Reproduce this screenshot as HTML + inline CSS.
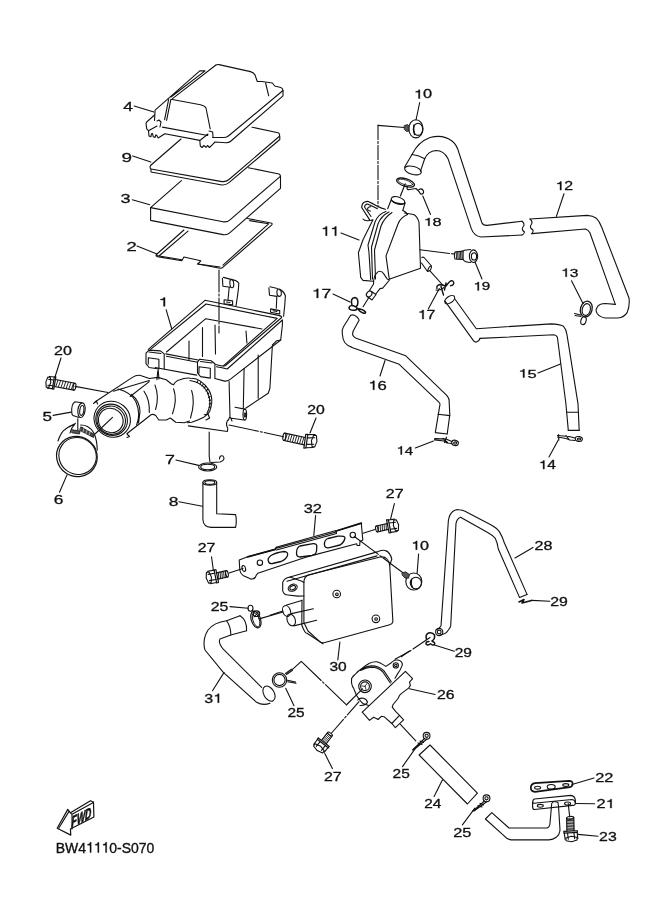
<!DOCTYPE html>
<html><head><meta charset="utf-8">
<style>
html,body{margin:0;padding:0;background:#fff;}
body{width:661px;height:913px;overflow:hidden;}
svg{display:block;will-change:transform;}
.lb text,.lb path{vector-effect:non-scaling-stroke;}
</style></head><body>
<svg width="661" height="913" viewBox="0 0 661 913">
<g fill="none" stroke="#111" stroke-width="1.1" stroke-linejoin="round" stroke-linecap="round">
<!-- PART 4 lid -->
<path d="M154.5,120.4 L155.1,110.1 L199.8,70.9 L205,70.9 L171,97"/>
<path d="M215.6,65.3 Q217,64.3 219,64.6 L250.5,71.6 Q254,72.5 255,75 L257.3,81.5 L261.9,81.5 L272.4,83 L274.7,86 L280.8,87.5 Q283,88.5 283,90.5 L283,95.8 L231,141 Q229,142.7 226,142.7 L215,142 L212.7,144.3 L209.5,147.5 L207.5,145.5 L206,147.3 L204,145.5 L202,147.5 L200.3,146 L199.8,140.5"/>
<path d="M215.6,65.3 L172.5,98.6"/>
<path d="M283,90.5 L229,135.5 Q227,137.5 224,137.5 L212.7,137.5"/>
<path d="M170.9,99.2 L200.5,104.7 Q205,106 206,108 L210.2,128.9 M170.9,99.2 L166.6,120.4 M168.6,99.6 L164.6,119.6"/>
<path d="M265.6,83 L268.7,95.8"/>
<path d="M154.5,115 L146.7,122 L146,123.4 L146.7,128.9 L148.5,130.7 L149,136.1 L150.9,136.8 L151.5,133.7 L152.5,133.5 L153.3,136.8 L155.1,137.4 L155.7,135 L156.5,135 L158.2,138 L164.8,133.7 L199.9,140.4"/>
<path d="M162.4,127.1 L207.8,135.5 M157,121 L159,120 L161,122 L160,127 M148.5,130.7 L157,126 M209,131 L212.7,132 L213,137.5 M200.5,140 L208,134"/>
<!-- PART 9 -->
<path d="M181,139 L150.5,165.5 Q149.5,168 151,169 L222,181.6 Q226,182 229,179.5 L279.2,136.5 Q280.5,134 278,132.8 L252,127.2"/>
<path d="M151,169 L151,172 L222,185 Q226,185.2 229,182.7 L279.8,139.5 L279.8,136.2"/>
<!-- PART 3 -->
<path d="M181.4,180.6 L150.6,207.6 L223,221.7 Q227,222.5 230,219.8 L279.8,176.8 Q281,175 279,174 L248.3,167.7"/>
<path d="M150.6,207.6 L150.6,220.4 L223,234.6 Q227,235.4 230,232.7 L280.5,188.3 L280.5,176"/>
<!-- PART 2 -->
<path d="M183.9,230 L156.4,254.5 Q155.5,256 157.4,256.6 L181.8,260.8 L183.9,257 L200.8,260.8 L197.7,264 L220,268.2 Q222,268.5 223,267.2 L271.8,224.8 Q273,223 269.7,222.7 L247.4,218.5"/>
<path d="M188,231.2 L159.5,255.5 M181.8,259.8 L156.4,255.5 M197.7,264 L220,267 M268.6,223.8 L223,265.2 M249.6,220.6 L268.6,223.8"/>

<!-- PART 1 airbox -->
<path d="M148.3,349.4 L205,300.3 L278.7,315.4 Q281.7,316 281.7,317.5 L225.5,365.5 Q224.5,366.2 222,366 L215.6,364.5 M198.2,360 L165.7,353.9"/>
<path d="M150.6,349.4 L206,304 L277.2,318.4 L223.3,365.8"/>
<path d="M166.5,352 L205.8,318.7 L262,329"/>
<path d="M166.5,356.2 L197.5,362.2 M216.4,366.8 L222,367.8 Q225,368.5 227.2,369 L282.4,320"/>
<path d="M282.4,320 L282.4,325 M155.1,367.5 L196.7,375.1 M214.9,378.5 L224.7,381.1 Q228,381.5 230.8,378.9 L280.7,340 L282.4,325"/>
<!-- lugs -->
<path d="M146,353.2 L149.1,350.1 L160.4,350.9 L164.2,353.9 L164.2,369 M146,353.2 L146,363.7 L149.1,367.5 L158.9,369 M148.3,357.7 L158.9,359.2 L158.9,369 M148.3,357.7 L148.3,364 M149,352 L161,353.5"/>
<path d="M197.5,362.2 L199.8,359.2 L211.1,360.7 L214.9,363.7 L214.9,378.1 M197.5,362.2 L197.5,372.8 L200.5,376.6 L210.3,378.1 M199,366.8 L210.3,368.3 L210.3,378.1 M199,366.8 L199,373 M200.5,361.5 L212,363"/>
<path d="M158.2,369.8 L158.9,378.9 M157.8,370.8 L156.9,379.7"/>
<!-- right face -->
<path d="M229.1,381.6 L230,416.5 L228.3,419.9 M276.5,340.8 L272.4,345 L269.9,388.2 L268.2,393.2 L245.7,408.2 M280.7,340 L276.5,340.8"/>
<path d="M235.1,407.3 L244.8,409.1 M231.5,418.2 L244.2,420 M230.5,417.5 L232,421"/>
<ellipse cx="244.8" cy="414.6" rx="1.8" ry="5.5"/>
<ellipse cx="245" cy="415" rx="0.7" ry="2.2"/>
<path d="M244.1,368.3 L243.3,408.2 M258.2,355 L258.2,398.2"/>
<path d="M188.3,425.9 L227.4,431.5 L227.8,428.2 Q225.5,424.5 227.4,420.7 L228.3,419.9"/>
<!-- inner ribs -->
<path d="M189,341 L189,360 M202.5,327.5 L202.5,356.5 M215,325 L215.5,354 M246,331 L246.9,343"/>
<!-- clips on rim -->
<path d="M222.4,278.2 L222.9,286.2 L230.3,287.3 M223.5,277.4 L230.9,279.4"/>
<ellipse cx="231.8" cy="283.6" rx="1.9" ry="4.2" transform="rotate(-5 231.8 283.6)"/>
<path d="M232,279.9 Q236.6,280 238.8,283.3 Q238.5,290 237.7,294.7 L236,306 M229.2,287.3 L228,299.8"/>
<path d="M224.1,299.8 L232.6,300.9 L232.6,304.9 L224.1,303.8 Z M226.5,302 L230,302.5"/>
<path d="M268.9,287.9 L269.5,295.3 L276.8,296.4 M270,286.8 L277.4,288.5"/>
<ellipse cx="279.1" cy="292.7" rx="2.2" ry="3.7" transform="rotate(-5 279.1 292.7)"/>
<path d="M279.1,289.6 Q283.1,290 285.4,295.8 Q285,305 283.6,316.3 M276.8,296.4 L276.3,308.3"/>
<path d="M270.6,308.9 L279.7,310.6 L279.7,314 L270.6,312.3 Z M273,310.8 L277,311.5"/>
<!-- dash-dot line vertical -->
<path d="M219,270 L219,333" stroke-dasharray="22 2 2 2"/>
<!-- boot -->
<ellipse cx="112.2" cy="419.2" rx="18.6" ry="17.6" transform="rotate(40 112.2 419.2)"/>
<ellipse cx="111.6" cy="419.8" rx="16.2" ry="15.3" transform="rotate(40 111.6 419.8)"/>
<ellipse cx="111.2" cy="420.2" rx="14.6" ry="13.8" transform="rotate(40 111.2 420.2)"/>
<ellipse cx="110.8" cy="420.5" rx="12.6" ry="12" transform="rotate(40 110.8 420.5)"/>
<path d="M95.3,401.8 L132.4,377.4 Q136,375 139.8,375.3 L149.3,378.5 L157.8,377.4 L166.2,379.8 L171.5,384 L173.6,384.6"/>
<path d="M113.3,391.2 L149.3,380.5 M130.2,396.5 L149.3,381.6 M118,389 Q131,392 136,402 Q141,414 136.6,425 M131.3,394.4 Q139.8,400.7 140,412 L138.5,423"/>
<path d="M127.1,433.5 L151.4,414.5 Q153.5,414 155.7,415.5 L158.8,420 L166.2,420 L170.4,418 L175.7,422.2 L184.2,422.7 L189.5,421"/>
<path d="M144,391.2 Q150,400 149.3,412.4 M155,385.1 Q159.5,396.8 155.6,409.5 M173.6,388.8 Q177.5,400 172.5,413.7 M191.6,390.4 Q195.5,402 190.5,418"/>
<path d="M173.6,384.6 Q176,380.5 180,379.8 Q185,377.5 190.5,378.2 Q197,378.5 200,380.9 Q206,385 208.5,389.4 Q212.5,396 211.7,403 Q211,408 209.6,411.6 Q207,415 204.3,416.9 Q197,420.5 191.6,422.2 L187.4,422.7"/>
<path d="M190,380.5 Q201,382 206.5,390.5 Q210.5,398 209.8,405 Q209,410 207,413"/>
<path d="M198,380.5 L197,382.5 M201,382 L200,384 M203.5,384 L202,386 M205.5,386.5 L204,388 M207.5,389.5 L206,391 M209,393 L207.5,394 M210,396.5 L208.5,397.5 M210.8,400 L209.2,400.8 M210.8,403.5 L209.2,404 M210.5,407 L209,407.2"/>
<path d="M204.3,414.8 L208,414 L209.6,418 L206,420"/>
<path d="M93.5,403.5 L96.5,401 L97.5,404 M127,434 L129.5,436.5 L127,437.5"/>
<path d="M112.5,417.4 L95,434"/>
<path d="M75,386.4 L108,392.5"/>
<!-- part 5 -->
<path d="M75,401.7 L81.6,402.8 M73,415.4 L79,417.6 M75,401.7 Q71,404 71.8,413 Q72,415 73,415.4"/>
<ellipse cx="81.5" cy="410.2" rx="3.6" ry="7.4" transform="rotate(8 81.5 410.2)"/>
<ellipse cx="81.8" cy="410.4" rx="2" ry="5" transform="rotate(8 81.8 410.4)"/>
<path d="M77.8,418.7 L77.8,430"/>
<!-- clamp 6 -->
<ellipse cx="76.9" cy="456.5" rx="20.6" ry="19.8" transform="rotate(35 76.9 456.5)" stroke-width="1.2"/>
<ellipse cx="77.6" cy="456" rx="19" ry="18.2" transform="rotate(35 77.6 456)"/>
<path d="M58,441 Q61,432 65,429.5 Q70,425.5 75.4,423.4 L68.6,427.2 M75.4,423.4 Q71,428 70,433"/>
<path d="M80.7,425 Q84.5,425 87.5,426.5 Q92,429 94,433.3 Q97,440 97.3,450 M82,427.5 L92,436"/>
<path d="M72.4,429.8 L80,431 L79.5,434 L72,432.8 Z" fill="#555" stroke-width="0.8"/>
<path d="M81,427 L94.5,434.5 L93.5,437.5 L80,430.5 Z" fill="#444" stroke-width="0.8"/>
<path d="M84,428.5 L83,431.8 M87,430.2 L86,433.5 M90,432 L89,435.2" stroke="#fff" stroke-width="0.6"/>
<!-- part 7 -->
<ellipse cx="207.7" cy="467" rx="9.1" ry="4" />
<ellipse cx="207.7" cy="467" rx="7" ry="2.7" />
<path d="M209.2,432 L209.2,456.3 L210,462 M211,462.5 L220,462 Q226,460 223,456 Q219.5,455 219.5,459"/>
<!-- part 8 -->
<ellipse cx="209.8" cy="482.4" rx="6.9" ry="2.7"/>
<ellipse cx="209.8" cy="482.4" rx="5" ry="1.8"/>
<path d="M202.9,482.8 L202.9,519.8 Q203.5,527 211,527.4 L235.6,527.4 Q237,521 235.6,514.6 L216.7,513.8 L216.7,482.8"/>
<!-- bolt 20 right -->
<path d="M229,425 L283.5,436.7" stroke-dasharray="30 2 2 2"/>
<!-- PART 10 top nut -->
<path d="M378,125.4 L404.2,127.5"/>
<ellipse cx="415.9" cy="128.8" rx="7.1" ry="9.1"/>
<ellipse cx="418" cy="129.3" rx="4.7" ry="6.1"/>
<path d="M414,125 Q413,129 414.5,134.5" stroke-width="1.4"/>
<path d="M404.5,125.5 L407.5,124.6 L409,126 L409,131 L406.5,131.5 L404.5,129.5 Z" fill="#555" stroke-width="0.8"/>
<path d="M378,125.4 L378,207" stroke-dasharray="14 2 2 2"/>
<!-- PART 12 hose left -->
<path d="M412,154.5 Q418,142 430,137.5 Q443,134 452,141 Q457,145 459,153 L481.8,222.5 Q483,225.5 487,225.4 L522,221.2"/>
<path d="M424.7,158.7 Q428,151.3 436,150.5 Q444,150.5 448,158.7 L471.3,228.6 Q474,236 481,237 L522,235"/>
<path d="M412,154.5 L404.5,167.2 M424.7,158.7 L420.4,171.4"/>
<ellipse cx="413" cy="170.4" rx="8.6" ry="4" transform="rotate(15 413 170.4)"/>
<path d="M412,154.5 Q418,155 424.7,158.7"/>
<path d="M522,221.2 Q525.5,224 523,227 Q521,229.5 524.5,232 Q524,234.5 522,235"/>
<!-- hose 12 right -->
<path d="M530,219 L587.2,215.4 Q593,215.8 596.3,218.2 Q599.5,221.5 601.7,227.2 L629,298 Q630,306 627.1,312.6 Q624,317.5 618,318 L605.3,318 Q599.5,317 597.2,313.5 Q595.5,310.5 596.3,309 Q597.5,305.5 600,304.4 Q602.5,303.5 605.3,303.5 L615.3,304.4"/>
<path d="M531.8,233.6 L585.4,229 Q588.5,230 589.9,232.7 L615.3,304.4"/>
<path d="M530,219 Q533.5,222 531,225 Q529,227.5 533,230 Q533.5,232.5 531.8,233.6"/>
<!-- PART 11 tank -->
<path d="M369.5,219.6 L361.7,207.5 Q362,203 364.7,202 Q366.5,201.3 368.3,201.5 L373.2,203.9 L377.4,206.3 L381.6,208.1 L385.3,209.3" stroke-width="1.2"/>
<path d="M371,216.5 L364.5,207 Q365,204.2 367.5,204 L373,206.5 L377.4,208.8"/>
<path d="M370.8,206.8 Q368,206.5 367.5,209 Q367.8,211.3 370.5,211"/>
<path d="M373,219.8 L363,239.8 L358.4,252.8 L360.7,277.4 L363,280.4 L373,281.2 M363,219 Q365,222 373,219.8"/>
<path d="M402.8,210.5 Q406,211.5 407.5,214.5"/>
<ellipse cx="398" cy="200.5" rx="7" ry="3.5" transform="rotate(18 398 200.5)"/>
<path d="M391.5,200.5 Q396,204.5 404.8,203.5"/>
<path d="M391.3,199.5 L387.7,208.7 M405.2,202.7 L402.8,210.5"/>
<path d="M386,211.4 Q378,214 375,222 L368,245 L369,252.8 L370.7,279.7 M389,212 Q381,216 378,224 L371.5,247 L372.5,279 M392,212.5 Q384,218 381,226 L374.5,250 L375.5,279"/>
<path d="M407.5,214.5 Q400,218 398,224 L386,255.9 L389,277.4 L389.8,279"/>
<path d="M404.4,213 L413.6,214.5 Q417,216 419,222.1 L420.5,268.2 L389.8,279"/>
<path d="M373.6,280.9 Q374.5,275 376.3,273.6 Q378,271 380,271.3 Q382,271.5 383.6,273.6 L387.2,279 L389.5,280 L382.7,288.1 L380,288.6 L375.8,294"/>
<path d="M373.6,280.9 L373.6,284 L369.5,290.5"/>
<ellipse cx="369.2" cy="294" rx="2.4" ry="3.3" transform="rotate(40 369.2 294)"/>
<path d="M371.5,291.5 L376,294.5 M367.5,296.8 L372,300 L376,294.5"/>
<path d="M421.8,257.5 Q423.5,256.5 425,258.5 L431.5,266 M421.5,263 L427.5,271.5 M427.5,271.5 Q431.5,271 431.5,266 Q429,265.5 427.5,271.5"/>
<path d="M419.8,249.8 L454.3,254" stroke-dasharray="30 2"/>
<path d="M369,297.2 L363.1,306.7 M430.4,271.3 L442.7,285"/>
<!-- clip 18 -->
<ellipse cx="405.5" cy="182.6" rx="9.3" ry="3.8" transform="rotate(18 405.5 182.6)" stroke-width="1.3"/>
<ellipse cx="405.3" cy="182.4" rx="7.6" ry="2.4" transform="rotate(18 405.3 182.4)" stroke-width="0.8"/>
<path d="M400.4,196 L405.2,183.9 M407.5,186.5 Q406,190.5 409.5,189.5 L416,188.5 Q419,191 420.5,194 Q424,194.5 423.5,191 Q422,188 419,189.5" stroke-width="1.2"/>
<!-- bolt 19 -->
<path d="M455,252 L463.1,251 L463.1,259.5 L455,259 Q453.8,255.5 455,252 Z"/>
<path d="M456.2,251.8 L456.6,259 M457.6,251.6 L458,259.1 M459,251.5 L459.4,259.2 M460.4,251.4 L460.8,259.3 M461.8,251.2 L462.2,259.4" stroke-width="0.9"/>
<path d="M463.1,251 L464.5,250.2 L470.6,249.5 M463.1,259.5 Q465,262.5 470.6,262.5"/>
<ellipse cx="473.5" cy="256.2" rx="4.1" ry="6.3"/>
<ellipse cx="474" cy="256.4" rx="2.6" ry="3.6"/>
<!-- clip 17 left -->
<path d="M352,305 Q350,298 355,297.5 Q359,298.5 357.5,305 L356,307 Q350,304 349,307.5 Q349,311 356,310 L357,308.5 Q363,309 365.5,312 Q366,314 363,313 Q360,312 357,308" stroke-width="1.5"/>
<!-- clip 17 right -->
<path d="M437,288.5 Q436,285.5 440,284.5 L446,286 Q449,282 450.5,281 Q453.5,280 453.8,283 Q453.5,285.5 450.5,285.8 M446,283 L444.5,290 M441,286.5 L443.5,295" stroke-width="1.4"/>
<path d="M436,290 Q440,291 444,287.5"/>
<!-- clip 13 -->
<ellipse cx="586.3" cy="309" rx="5.8" ry="8" transform="rotate(15 586.3 309)" stroke-width="1.3"/>
<ellipse cx="586.3" cy="309.5" rx="4" ry="6" transform="rotate(15 586.3 309.5)"/>
<ellipse cx="583.5" cy="320.7" rx="2.6" ry="4" transform="rotate(15 583.5 320.7)"/>
<path d="M574.5,313.5 L580.8,315 M575,315.5 L581,316.5"/>
<!-- hose 16 -->
<path d="M350.7,315.3 Q352.5,314.5 354.4,315.3 Q358,317 359.2,320.1 L353.2,331 Q352,334.5 353.2,335.9 Q354.5,337.7 356.2,338.3 L405.8,355.8 L446.5,395.2 Q449.3,398.5 449.1,400.4 L449.8,414.9 L447.2,434"/>
<path d="M350.7,315.3 L343.5,326.8 Q341.5,330 342.3,334 Q342.8,339.5 344.7,342.5 Q347.5,346 352,347.4 L399.2,364.3 L438.6,401.8 Q440.2,403.5 440,404.4 L435.3,432.6 L447.2,434"/>
<path d="M438,414.2 L449.8,415.6"/>
<!-- hose 15 -->
<ellipse cx="449.7" cy="299.6" rx="5.6" ry="3.2" transform="rotate(-35 449.7 299.6)"/>
<path d="M444.8,300.9 L472.7,339.6 Q474.5,342.5 476.3,342 Q479.5,341 480,338.4"/>
<path d="M454.5,298.5 L476.3,328.7 L551.4,323.9 Q559,324 563.5,326.3 Q566.5,329.5 567,334.8 L578,403.8 L579.2,430.4"/>
<path d="M480,338.4 L553.8,334.8 Q556.5,335.5 557.4,337.2 L565.9,403.8 L568.3,430.4"/>
<path d="M567,412.2 L578,412.2 M568.3,430.4 L579.2,430.4"/>
<!-- clip 14 left -->
<path d="M434.7,438.6 L446.5,439.2 L452,441.5 M434.5,439.8 L444,441 L447,443 L452,443.5 M446.5,437.2 L444.5,442.5 M443,438.5 L447.5,442.5" stroke-width="1.2"/>
<ellipse cx="455" cy="442.9" rx="3.4" ry="2.6" transform="rotate(15 455 442.9)"/>
<ellipse cx="455.2" cy="443" rx="1.6" ry="1.1"/>
<!-- clip 14 right -->
<path d="M557.5,435.5 L569,436.5 L575,438 M557.5,437 L566,438.5 L570,440 L575,440.5 M558.5,434.5 L558.8,440 M566,435.5 L569.5,440" stroke-width="1.2"/>
<ellipse cx="578.8" cy="439" rx="3.6" ry="2.4" transform="rotate(10 578.8 439)"/>
<ellipse cx="579" cy="439" rx="1.7" ry="1"/>
<!-- PART 32 bracket -->
<path d="M239.2,560 L247.7,556.8 L275.2,549.4 M336.1,531 L361.3,523.2 L362.8,540.1 L360,541.5 L359.7,545.5 L357,545.5 L356.7,543.7 L305,557.4 L257.8,573.2 L256.2,575.4 Q255.5,578.5 252.5,579 L250.9,579.1 L243,575.4 Q240,573 239.8,570 L239.2,560"/>
<path d="M247.7,556.8 L275.2,549.4 M336.1,531 L361.3,523.2" stroke-width="1.8"/>
<path d="M275.2,549.4 L276,547.2 L336.1,530.5 M275.8,548.5 L336.1,532 M276.5,550 L336.5,533.5 M336.1,530.5 L336.5,533.5"/>
<path d="M268.5,561.5 Q267,558.5 271,555.5 Q276,552.5 284,551.5 Q288.5,551.8 287.5,555.5 Q286,559.5 281,561.5 L272.5,563.5 Q269,563.8 268.5,561.5 Z" stroke-width="1.3"/>
<path d="M296.5,553 Q296.5,547.5 300,546 L313,543.7 Q317,543.5 316.8,546.5 L316.5,551 Q316,554.5 312,555.3 L300,557 Q296.5,557 296.5,553 Z" stroke-width="1.3"/>
<path d="M324.5,545 Q324,540 328,538.5 L338,536.2 Q345.5,535.5 345,538 Q344,542.5 340,545 L328.5,547.8 Q324.8,548.2 324.5,545 Z" stroke-width="1.3"/>
<circle cx="259.9" cy="562.7" r="2.7"/>
<circle cx="352.8" cy="535" r="2.7"/>
<ellipse cx="243.8" cy="568.5" rx="1.7" ry="3" transform="rotate(-15 243.8 568.5)"/>
<path d="M229,573 L243,568.5"/>
<path d="M354.3,536.5 L402.9,572.7" stroke-dasharray="30 2 2 2"/>
<path d="M363,533.3 L375,529.5"/>
<!-- PART 10 lower nut -->
<ellipse cx="413.8" cy="581.5" rx="8" ry="8.5"/>
<ellipse cx="415.9" cy="583" rx="5.6" ry="5.8"/>
<path d="M411.5,579.5 Q410.5,584 412.5,587.5" stroke-width="1.4"/>
<path d="M402.3,573 L405.5,571.8 L409.5,574.5 L408.5,578.2 L405,578 L402.5,575.5 Z" fill="#555" stroke-width="0.8"/>
<!-- PART 30 canister -->
<path d="M303.9,582.4 L301.8,581.3 L290,577 Q284,578 282.7,582.4 L282.7,590.8 Q284,595 288,595 L297.5,596.1 L303.9,596"/>
<path d="M290,577 L378,551.6 Q383,549.5 385.4,550.6 Q390,552 391.8,559 L389.7,565.4"/>
<path d="M287,581.3 L377,555.9"/>
<ellipse cx="292.7" cy="587.7" rx="4.7" ry="3.3" transform="rotate(-25 292.7 587.7)"/>
<ellipse cx="292.7" cy="587.7" rx="3" ry="1.9" transform="rotate(-25 292.7 587.7)"/>
<path d="M303.9,582.4 Q304,577 308.1,575 L380.1,557 Q385,556.5 387,559 Q389.7,562 389.7,565.4 L392.9,621.6 Q392.5,624 389.7,624.7 L324,642.7 Q320.5,643 319.8,641.7 L308,631 L303.9,622.6 L303.9,582.4"/>
<path d="M302,600 L301.8,625 Q305,634 307,633.2 L323,643.8"/>
<circle cx="336.7" cy="594" r="3.8"/>
<circle cx="336.9" cy="594.3" r="1.3"/>
<circle cx="375.9" cy="618.8" r="3.8"/>
<circle cx="376.1" cy="619" r="1.3"/>
<ellipse cx="286.6" cy="611" rx="3.8" ry="5.6" transform="rotate(-20 286.6 611)"/>
<ellipse cx="291.2" cy="620" rx="4" ry="6" transform="rotate(-20 291.2 620)"/>
<path d="M286.6,605 L301.8,600.5 M291.4,613.6 L313.4,608.8 M293.8,625.9 L316.6,620.3"/>
<path d="M270,615.2 L282.7,611"/>
<path d="M339.9,642 L337.8,660"/>
<!-- clip 25 upper -->
<ellipse cx="255.9" cy="619.5" rx="4.6" ry="8.7" transform="rotate(-18 255.9 619.5)" stroke-width="1.2"/>
<ellipse cx="256.1" cy="619.8" rx="3.2" ry="7.3" transform="rotate(-18 256.1 619.8)" stroke-width="0.9"/>
<ellipse cx="250.5" cy="608.3" rx="2.5" ry="3" stroke-width="1.1"/>
<ellipse cx="256.4" cy="613.7" rx="3.3" ry="2.8" stroke-width="1.1"/>
<path d="M253,611 L254,613 M258.5,612 L254,617"/>
<path d="M260,618.6 L283,612"/>
<!-- hose 31 -->
<path d="M240,615.8 L226.6,620.8 Q214,622.5 208,630 Q202,640 205,650 L223.3,672.4 L256.6,702.3 Q263,706 270,703.2"/>
<path d="M246.6,630.8 L230.8,635 L220,639 Q218,642 222.5,648.3 L261.6,687.4"/>
<path d="M240,615.8 Q247,620 246.6,630.8 M226.6,620.8 Q231,627 230.8,635"/>
<ellipse cx="269" cy="693.6" rx="5.2" ry="8.3" transform="rotate(-30 269 693.6)"/>
<!-- clip 25 lower -->
<circle cx="279.5" cy="680" r="7.2"/>
<circle cx="279.5" cy="680" r="5.6"/>
<path d="M285.5,673.5 L291.5,669.2 M286.5,674.5 L292.5,670.2 M287.7,681.8 L296,683.3 M287.5,680.3 L295.5,682"/>
<path d="M292.2,669.7 L301.3,661.3 L346.7,705.2" stroke-dasharray="40 2 2 2"/>
<!-- PART 28 hose -->
<path d="M436.2,629.5 Q439.5,628.5 441,625.9 L448.4,520.3 Q449.5,514 453,511.2 Q456,509.3 459,509.7 Q462.5,510 465,511.2 L490.8,524.8 Q497,528 499.8,532.4 Q502.5,537 504.4,543 L527,594.4"/>
<path d="M440.4,635 Q446,634 448,630.5 Q450.5,627.5 450.7,625.9 L456,523.3 Q457,518.5 460.5,517.2 L487.7,532.4 Q492.5,535 495.3,538.4 Q497.5,542.5 498.3,549 L519.5,597.4"/>
<path d="M519.5,597.4 L527,594.4"/>
<circle cx="439.2" cy="632" r="3.6"/>
<circle cx="439.2" cy="632" r="1.9"/>
<!-- clip 29 right -->
<path d="M519,602 L524,599.5 L522,603 L531.6,600.4" stroke-width="1.6"/>
<path d="M531.6,600.4 L549.8,601.3"/>
<!-- clip 29 left -->
<path d="M426.5,639.5 Q425,634.5 428.5,633 Q432.5,631.8 434.5,635 Q435.3,639 432,641" stroke-width="1.5"/>
<path d="M429,641.5 Q425.5,641.5 426,644 Q428,646 430.5,643.8 Q432.5,645.8 434.5,644.5 Q435.5,642.5 432.5,641.5" stroke-width="1.4"/>
<path d="M430,637.5 L413,649 M411,650.5 L395,659.2"/>
<path d="M433.7,644.7 L454.3,651.3"/>
<!-- PART 26 valve -->
<path d="M351.6,678.6 Q353,676 355,674.5 Q358.5,670.5 362.3,668.2 Q366,665 369.5,663.2 Q373,661.5 376.8,661.8 Q380,662.5 382.2,664.1 L385.9,666.4 L391.3,662.7 Q393.5,660.5 395.8,660 Q399,659.8 400.4,660.9 Q403,663 402.2,665.4 Q400.5,670 397.7,673.6 L395,678.2"/>
<path d="M361.4,669.1 Q366,666.5 371.3,665.9 Q375,665.8 378.6,667.3 Q382,668.8 384,670.9 L391.3,681.8 M360.5,670.5 Q366,667.6 371.3,667.2 Q375,667.2 378,668.6 Q381.5,670.2 383,672.2 L390.3,683"/>
<path d="M351.6,678.6 Q351,685 353.6,688.1 L356.3,695 Q360,701 363,703.5 L368.6,705.4"/>
<circle cx="365" cy="686.3" r="6.3"/>
<circle cx="365" cy="686.3" r="4.4"/>
<path d="M365,686.3 L367,683.5 M365,686.3 L361.8,686 M365,686.3 L366,689.5" stroke-width="0.8"/>
<circle cx="395.8" cy="665.4" r="2.6"/>
<circle cx="395.8" cy="665.4" r="1.2"/>
<path d="M357.7,700 Q360,697.5 363.5,698.3 Q367,699.5 367.5,702.5 Q365,706 360,705.5"/>
<path d="M362.3,712.2 L405.4,671.3 L412.6,678.6 L409.5,682.2 L410.4,685.4 L408.6,688.1 L401.3,693.6 L399.5,695.4 L397.7,699 L393.1,704.5 L392.2,707.2 L395.8,711.7 L399.5,715.4"/>
<path d="M362.3,712.2 L369.5,720.4 L373.6,717.2 L376.3,718.5 L378.1,719.5 L381.3,716.3 L384,716.7 L391.8,723.5"/>
<path d="M391.8,723.5 L399.5,715.4 L403.6,719.9 L395.4,727.6 Z"/>
<path d="M400.4,724.4 L415.8,740.8 M362.5,688.8 L346.8,704.5"/>
<path d="M401.3,656.8 L410.8,650" stroke-dasharray="10 2"/>
<path d="M409.4,688.8 L435.2,694.5"/>
<path d="M331.6,733 L359,701.7" stroke-dasharray="18 2 2 2"/>
<path d="M324.8,753.5 L332.4,768.6"/>
<!-- clip 25 mid -->
<circle cx="426.6" cy="735.8" r="3.4"/>
<circle cx="426.6" cy="735.8" r="1.6"/>
<path d="M424.5,738.5 L412.5,750 M427,739 L414,749.5 M418,743 L422,744.5 M420,741 L423.5,742.5" stroke-width="1.1"/>
<path d="M402.5,766.6 L416.6,746.6"/>
<!-- hose 24 -->
<path d="M419.1,755 L430,745 L477.4,793.2 L467.4,804 Z"/>
<path d="M434.1,796.6 L442.4,780"/>
<!-- clip 25 lower-2 -->
<circle cx="486.5" cy="798.3" r="3.4"/>
<circle cx="486.5" cy="798.3" r="1.6"/>
<path d="M484.5,801 L472.4,811.5 M487,801.5 L474,811 M478,805.5 L482,807 M480,803.5 L483.5,805" stroke-width="1.1"/>
<path d="M462.4,824.8 L474.9,808.2"/>
<!-- PART 22 gasket -->
<path d="M535,783.2 L569,780.9 Q572.8,781 572.6,784 Q572.3,787 569.9,787.2 L535,791.8 Q530.8,791.5 530.8,787.8 Q531,783.8 535,783.2 Z" stroke-width="1.7"/>
<ellipse cx="551.2" cy="786.8" rx="4" ry="2.3"/>
<ellipse cx="537.6" cy="787.7" rx="3" ry="1.4"/>
<ellipse cx="565.8" cy="785" rx="3" ry="1.4"/>
<path d="M572,784.5 L594,778"/>
<!-- PART 21 pipe -->
<path d="M534.5,799 L570.8,795.4 Q574.8,796 575.3,800 L575.3,803.5 Q575,805.8 572.6,805.4 L534.5,809.5 Q532.5,809.5 532.6,806 L532.6,802.7 Q532.6,799.5 534.5,799 Z" stroke-width="1.2"/>
<path d="M532.6,802.7 Q534,803.5 536,803 L572,799.5 Q575,800 575.3,802.5"/>
<ellipse cx="540.3" cy="805.8" rx="3" ry="1.4"/>
<ellipse cx="567.6" cy="803.6" rx="3" ry="1.6"/>
<path d="M558,802.7 L558.5,806 L560,830 Q559.5,835 556.2,837.2 Q553,839.5 549,839.9 L510.9,839.9 Q506.5,839 503.6,835.4 L485.4,819 L491.8,812.7 L509,828 L547.2,828 Q549.5,827 549.9,824.5 L551.7,803.6 Q552.5,801.5 554.4,801.8 Q557,801.5 558,802.7"/>
<path d="M575.5,803.5 L594.6,803.8"/>
<path d="M568.2,803.6 L569.7,816.9"/>
<path d="M578,834.4 L598,836.2"/>

<!--BOLTS--><path d="M54.22,386.45 L73.92,390.15 M55.38,379.55 L75.08,383.25"/>
<ellipse cx="74.50" cy="386.70" rx="1.33" ry="3.50" transform="rotate(9.5 74.50 386.70)"/>
<path d="M55.77,386.58 L57.98,380.20 M58.36,387.06 L60.57,380.69 M60.95,387.55 L63.16,381.18 M63.54,388.04 L65.76,381.66 M66.14,388.52 L68.35,382.15 M68.73,389.01 L70.94,382.64 M71.32,389.50 L73.53,383.12" stroke-width="0.9"/>
<path d="M53.77,389.11 L55.83,376.89 M53.77,389.11 L52.34,388.96 M55.83,376.89 L54.40,376.74 M52.34,388.96 L54.40,376.74" stroke-width="1.2"/>
<path d="M52.39,388.66 L47.32,388.12 M54.35,377.03 L49.28,376.48 M52.88,385.76 L47.81,385.21 M53.86,379.94 L48.79,379.39"/>
<path d="M50.74,382.71 L48.68,387.54 L46.23,387.13 L45.86,381.89 L47.92,377.06 L50.37,377.47 Z"/>
<path d="M305.31,437.54 L284.81,433.14 M304.29,444.86 L283.79,440.46"/>
<ellipse cx="284.30" cy="436.80" rx="1.41" ry="3.70" transform="rotate(-172.0 284.30 436.80)"/>
<path d="M303.90,437.38 L301.89,444.20 M301.52,436.87 L299.50,443.69 M299.13,436.36 L297.12,443.18 M296.75,435.85 L294.73,442.66 M294.37,435.34 L292.35,442.15 M291.98,434.82 L289.97,441.64 M289.60,434.31 L287.58,441.13 M287.21,433.80 L285.20,440.62" stroke-width="0.9"/>
<path d="M305.76,434.34 L303.84,448.06 M305.76,434.34 L307.83,434.29 M303.84,448.06 L305.90,448.02 M307.83,434.29 L305.90,448.02" stroke-width="1.2"/>
<path d="M307.79,434.62 L315.12,434.46 M305.95,447.69 L313.28,447.54 M307.33,437.89 L314.66,437.73 M306.41,444.42 L313.74,444.27"/>
<path d="M311.45,440.61 L313.62,435.15 L316.37,435.53 L316.95,441.39 L314.78,446.85 L312.03,446.47 Z"/>
<path d="M217.84,579.14 L227.64,576.94 M216.56,572.86 L226.36,570.66"/>
<ellipse cx="227.00" cy="573.80" rx="1.22" ry="3.20" transform="rotate(-11.5 227.00 573.80)"/>
<path d="M218.84,578.74 L218.36,572.63 M220.59,578.35 L220.11,572.24 M222.34,577.95 L221.86,571.85 M224.09,577.56 L223.61,571.45 M225.84,577.17 L225.36,571.06" stroke-width="0.9"/>
<path d="M218.52,582.48 L215.88,569.52 M218.52,582.48 L216.67,582.81 M215.88,569.52 L214.03,569.85 M216.67,582.81 L214.03,569.85" stroke-width="1.2"/>
<path d="M216.61,582.50 L210.06,583.67 M214.10,570.16 L207.54,571.33 M215.98,579.42 L209.43,580.59 M214.72,573.24 L208.17,574.41"/>
<path d="M211.39,576.97 L211.18,582.58 L208.59,583.11 L206.21,578.03 L206.42,572.42 L209.01,571.89 Z"/>
<path d="M387.23,523.45 L376.23,526.05 M388.37,529.35 L377.37,531.95"/>
<ellipse cx="376.80" cy="529.00" rx="1.14" ry="3.00" transform="rotate(169.1 376.80 529.00)"/>
<path d="M386.11,523.89 L386.35,529.65 M384.14,524.36 L384.39,530.11 M382.18,524.82 L382.42,530.58 M380.21,525.29 L380.46,531.04 M378.25,525.75 L378.49,531.51" stroke-width="0.9"/>
<path d="M386.55,519.90 L389.05,532.90 M386.55,519.90 L388.35,519.66 M389.05,532.90 L390.86,532.65 M388.35,519.66 L390.86,532.65" stroke-width="1.2"/>
<path d="M388.41,519.97 L394.81,519.11 M390.80,532.34 L397.19,531.49 M389.01,523.06 L395.40,522.21 M390.20,529.25 L396.60,528.39"/>
<path d="M393.40,525.80 L393.67,520.19 L396.27,519.69 L398.60,524.80 L398.33,530.41 L395.73,530.91 Z"/>
<path d="M326.10,743.97 L332.30,735.77 M321.50,740.43 L327.70,732.23"/>
<ellipse cx="330.00" cy="734.00" rx="1.10" ry="2.90" transform="rotate(-52.4 330.00 734.00)"/>
<path d="M326.53,743.15 L322.57,739.26 M327.47,741.91 L323.51,738.02 M328.41,740.66 L324.45,736.78 M329.35,739.42 L325.39,735.54 M330.29,738.18 L326.33,734.29 M331.23,736.94 L327.27,733.05" stroke-width="0.9"/>
<path d="M329.29,746.43 L318.31,737.97 M329.29,746.43 L328.21,747.79 M318.31,737.97 L317.23,739.33 M328.21,747.79 L317.23,739.33" stroke-width="1.2"/>
<path d="M327.95,747.59 L324.13,752.43 M317.49,739.53 L313.67,744.37 M325.34,745.58 L321.51,750.41 M320.11,741.55 L316.29,746.39"/>
<path d="M320.59,746.20 L324.27,750.79 L322.58,752.99 L317.21,750.60 L313.53,746.01 L315.22,743.81 Z"/>
<path d="M574.09,830.78 L573.79,817.58 M566.91,831.22 L566.61,818.02"/>
<ellipse cx="570.20" cy="817.80" rx="1.37" ry="3.60" transform="rotate(-93.5 570.20 817.80)"/>
<path d="M573.91,829.89 L567.04,829.65 M573.87,828.36 L567.00,828.12 M573.84,826.82 L566.97,826.58 M573.80,825.29 L566.93,825.05 M573.77,823.75 L566.90,823.51 M573.73,822.22 L566.86,821.98 M573.70,820.68 L566.83,820.44 M573.66,819.15 L566.79,818.91" stroke-width="0.9"/>
<path d="M577.21,830.59 L563.79,831.41 M577.21,830.59 L577.43,832.35 M563.79,831.41 L564.01,833.17 M577.43,832.35 L564.01,833.17" stroke-width="1.2"/>
<path d="M577.11,832.37 L577.89,838.61 M564.33,833.15 L565.11,839.39 M573.91,832.56 L574.69,838.80 M567.53,832.96 L568.31,839.20"/>
<path d="M571.34,836.32 L576.95,837.32 L577.11,840.00 L571.66,841.68 L566.05,840.68 L565.89,838.00 Z"/><!--/BOLTS-->
<!-- LEADERS -->
<path d="M134.2,106 L153.9,112 M132.7,155.9 L150.8,162 M132.3,199.7 L149.8,204.7 M137,246 L157,254 M166.1,309.7 L171.8,329 M61,358 L55,377 M53.1,415.4 L71.2,412.1 M59.5,492.3 L67,474.9 M175.9,460 L198.6,465.4 M178.9,501.7 L202.4,506.2 M316,418 L310,433 M419.7,102.5 L416,120 M341,233 L359,240 M430.5,214.5 L422.8,196 M482,279 L475,262 M333,294 L350,302 M428.4,308.8 L439.3,288.5 M564,193.8 L556.4,216.4 M571.5,280.7 L583,303.4 M380,376 L385,360.5 M538,373 L560.6,364 M415.3,448 L433.5,441 M549,457 L558.3,440 M315.6,515.5 L313.8,535.5 M211.5,556.7 L213.4,570.5 M394.4,503.6 L390.5,519.3 M418.6,554 L417.1,573.4 M230,606.6 L248.3,608.3 M212.5,690.7 L224.1,672.4 M285.7,688.2 L294,705.7 M533,547.5 L515,558"/>
<!-- FWD arrow -->
<path d="M57.2,828.3 L67.8,809.4 L70.4,812.8 L90.5,800.7 L93.5,802.2 L93.9,817 L70.4,829 L70.8,835.1 Z" stroke-width="1.2"/>
<path d="M58.7,828.3 L68.9,811.6 M72,814.3 L92,803.3 L93.5,802.2 M70.4,812.8 L72,814.3 L72,829"/>
</g>
<!--LABELS--><g class="lb" font-family="Liberation Sans" fill="#111" stroke="#111" stroke-width="0.35"><g transform="matrix(0.1745 0 0 0.1324 123.25 110.73)"><text x="0.0" y="0" font-size="100">4</text></g><g transform="matrix(0.1891 0 0 0.1282 121.55 161.87)"><text x="0.0" y="0" font-size="100">9</text></g><g transform="matrix(0.1809 0 0 0.1282 120.58 203.17)"><text x="0.0" y="0" font-size="100">3</text></g><g transform="matrix(0.1848 0 0 0.1300 126.38 250.60)"><text x="0.0" y="0" font-size="100">2</text></g><g transform="matrix(0.1769 0 0 0.1239 158.45 306.30)"><path transform="translate(0.0 0)" d="M37.3,0 L28.6,0 L28.6,-51 L11.5,-51 L11.5,-57.5 Q22,-58 26,-62.5 Q29,-66.5 29.8,-70.9 L37.3,-70.9 Z"/></g><g transform="matrix(0.1608 0 0 0.1239 54.00 355.08)"><text x="0.0" y="0" font-size="100">2</text><text x="55.6" y="0" font-size="100">0</text></g><g transform="matrix(0.1702 0 0 0.1243 42.52 420.88)"><text x="0.0" y="0" font-size="100">5</text></g><g transform="matrix(0.1739 0 0 0.1239 53.83 504.28)"><text x="0.0" y="0" font-size="100">6</text></g><g transform="matrix(0.1783 0 0 0.1294 165.01 464.23)"><text x="0.0" y="0" font-size="100">7</text></g><g transform="matrix(0.1745 0 0 0.1296 168.80 506.37)"><text x="0.0" y="0" font-size="100">8</text></g><g transform="matrix(0.1578 0 0 0.1239 307.21 413.68)"><text x="0.0" y="0" font-size="100">2</text><text x="55.6" y="0" font-size="100">0</text></g><g transform="matrix(0.1635 0 0 0.1222 413.80 98.48)"><path transform="translate(0.0 0)" d="M37.3,0 L28.6,0 L28.6,-51 L11.5,-51 L11.5,-57.5 Q22,-58 26,-62.5 Q29,-66.5 29.8,-70.9 L37.3,-70.9 Z"/><text x="55.6" y="0" font-size="100">0</text></g><g transform="matrix(0.1659 0 0 0.1310 320.88 235.70)"><path transform="translate(0.0 0)" d="M37.3,0 L28.6,0 L28.6,-51 L11.5,-51 L11.5,-57.5 Q22,-58 26,-62.5 Q29,-66.5 29.8,-70.9 L37.3,-70.9 Z"/><path transform="translate(55.6 0)" d="M37.3,0 L28.6,0 L28.6,-51 L11.5,-51 L11.5,-57.5 Q22,-58 26,-62.5 Q29,-66.5 29.8,-70.9 L37.3,-70.9 Z"/></g><g transform="matrix(0.1635 0 0 0.1111 423.50 225.79)"><path transform="translate(0.0 0)" d="M37.3,0 L28.6,0 L28.6,-51 L11.5,-51 L11.5,-57.5 Q22,-58 26,-62.5 Q29,-66.5 29.8,-70.9 L37.3,-70.9 Z"/><text x="55.6" y="0" font-size="100">8</text></g><g transform="matrix(0.1526 0 0 0.1181 473.22 290.38)"><path transform="translate(0.0 0)" d="M37.3,0 L28.6,0 L28.6,-51 L11.5,-51 L11.5,-57.5 Q22,-58 26,-62.5 Q29,-66.5 29.8,-70.9 L37.3,-70.9 Z"/><text x="55.6" y="0" font-size="100">9</text></g><g transform="matrix(0.1758 0 0 0.1282 311.67 297.90)"><path transform="translate(0.0 0)" d="M37.3,0 L28.6,0 L28.6,-51 L11.5,-51 L11.5,-57.5 Q22,-58 26,-62.5 Q29,-66.5 29.8,-70.9 L37.3,-70.9 Z"/><text x="55.6" y="0" font-size="100">7</text></g><g transform="matrix(0.1589 0 0 0.1268 417.75 319.00)"><path transform="translate(0.0 0)" d="M37.3,0 L28.6,0 L28.6,-51 L11.5,-51 L11.5,-57.5 Q22,-58 26,-62.5 Q29,-66.5 29.8,-70.9 L37.3,-70.9 Z"/><text x="55.6" y="0" font-size="100">7</text></g><g transform="matrix(0.1589 0 0 0.1197 555.45 190.10)"><path transform="translate(0.0 0)" d="M37.3,0 L28.6,0 L28.6,-51 L11.5,-51 L11.5,-57.5 Q22,-58 26,-62.5 Q29,-66.5 29.8,-70.9 L37.3,-70.9 Z"/><text x="55.6" y="0" font-size="100">2</text></g><g transform="matrix(0.1562 0 0 0.1167 560.98 276.68)"><path transform="translate(0.0 0)" d="M37.3,0 L28.6,0 L28.6,-51 L11.5,-51 L11.5,-57.5 Q22,-58 26,-62.5 Q29,-66.5 29.8,-70.9 L37.3,-70.9 Z"/><text x="55.6" y="0" font-size="100">3</text></g><g transform="matrix(0.1667 0 0 0.1264 368.17 389.77)"><path transform="translate(0.0 0)" d="M37.3,0 L28.6,0 L28.6,-51 L11.5,-51 L11.5,-57.5 Q22,-58 26,-62.5 Q29,-66.5 29.8,-70.9 L37.3,-70.9 Z"/><text x="55.6" y="0" font-size="100">6</text></g><g transform="matrix(0.1646 0 0 0.1181 518.29 377.58)"><path transform="translate(0.0 0)" d="M37.3,0 L28.6,0 L28.6,-51 L11.5,-51 L11.5,-57.5 Q22,-58 26,-62.5 Q29,-66.5 29.8,-70.9 L37.3,-70.9 Z"/><text x="55.6" y="0" font-size="100">5</text></g><g transform="matrix(0.1495 0 0 0.1169 396.36 454.50)"><path transform="translate(0.0 0)" d="M37.3,0 L28.6,0 L28.6,-51 L11.5,-51 L11.5,-57.5 Q22,-58 26,-62.5 Q29,-66.5 29.8,-70.9 L37.3,-70.9 Z"/><text x="55.6" y="0" font-size="100">4</text></g><g transform="matrix(0.1557 0 0 0.1211 538.59 469.10)"><path transform="translate(0.0 0)" d="M37.3,0 L28.6,0 L28.6,-51 L11.5,-51 L11.5,-57.5 Q22,-58 26,-62.5 Q29,-66.5 29.8,-70.9 L37.3,-70.9 Z"/><text x="55.6" y="0" font-size="100">4</text></g><g transform="matrix(0.1647 0 0 0.1310 303.64 512.57)"><text x="0.0" y="0" font-size="100">3</text><text x="55.6" y="0" font-size="100">2</text></g><g transform="matrix(0.1584 0 0 0.1229 197.81 551.50)"><text x="0.0" y="0" font-size="100">2</text><text x="55.6" y="0" font-size="100">7</text></g><g transform="matrix(0.1594 0 0 0.1257 385.80 497.90)"><text x="0.0" y="0" font-size="100">2</text><text x="55.6" y="0" font-size="100">7</text></g><g transform="matrix(0.1615 0 0 0.1236 411.12 549.68)"><path transform="translate(0.0 0)" d="M37.3,0 L28.6,0 L28.6,-51 L11.5,-51 L11.5,-57.5 Q22,-58 26,-62.5 Q29,-66.5 29.8,-70.9 L37.3,-70.9 Z"/><text x="55.6" y="0" font-size="100">0</text></g><g transform="matrix(0.1588 0 0 0.1310 210.81 610.77)"><text x="0.0" y="0" font-size="100">2</text><text x="55.6" y="0" font-size="100">5</text></g><g transform="matrix(0.1553 0 0 0.1225 329.38 671.48)"><text x="0.0" y="0" font-size="100">3</text><text x="55.6" y="0" font-size="100">0</text></g><g transform="matrix(0.1607 0 0 0.1264 204.16 702.67)"><text x="0.0" y="0" font-size="100">3</text><path transform="translate(55.6 0)" d="M37.3,0 L28.6,0 L28.6,-51 L11.5,-51 L11.5,-57.5 Q22,-58 26,-62.5 Q29,-66.5 29.8,-70.9 L37.3,-70.9 Z"/></g><g transform="matrix(0.1539 0 0 0.1268 287.43 717.37)"><text x="0.0" y="0" font-size="100">2</text><text x="55.6" y="0" font-size="100">5</text></g><g transform="matrix(0.1618 0 0 0.1268 534.49 549.67)"><text x="0.0" y="0" font-size="100">2</text><text x="55.6" y="0" font-size="100">8</text></g><g transform="matrix(0.1584 0 0 0.1225 550.21 605.58)"><text x="0.0" y="0" font-size="100">2</text><text x="55.6" y="0" font-size="100">9</text></g><g transform="matrix(0.1554 0 0 0.1197 454.72 656.68)"><text x="0.0" y="0" font-size="100">2</text><text x="55.6" y="0" font-size="100">9</text></g><g transform="matrix(0.1578 0 0 0.1239 436.91 699.38)"><text x="0.0" y="0" font-size="100">2</text><text x="55.6" y="0" font-size="100">6</text></g><g transform="matrix(0.1594 0 0 0.1271 324.00 780.70)"><text x="0.0" y="0" font-size="100">2</text><text x="55.6" y="0" font-size="100">7</text></g><g transform="matrix(0.1549 0 0 0.1282 392.53 778.07)"><text x="0.0" y="0" font-size="100">2</text><text x="55.6" y="0" font-size="100">5</text></g><g transform="matrix(0.1534 0 0 0.1186 424.23 808.20)"><text x="0.0" y="0" font-size="100">2</text><text x="55.6" y="0" font-size="100">4</text></g><g transform="matrix(0.1637 0 0 0.1282 453.18 837.17)"><text x="0.0" y="0" font-size="100">2</text><text x="55.6" y="0" font-size="100">5</text></g><g transform="matrix(0.1644 0 0 0.1257 595.18 781.70)"><text x="0.0" y="0" font-size="100">2</text><text x="55.6" y="0" font-size="100">2</text></g><g transform="matrix(0.1636 0 0 0.1239 596.48 808.00)"><text x="0.0" y="0" font-size="100">2</text><path transform="translate(55.6 0)" d="M37.3,0 L28.6,0 L28.6,-51 L11.5,-51 L11.5,-57.5 Q22,-58 26,-62.5 Q29,-66.5 29.8,-70.9 L37.3,-70.9 Z"/></g><g transform="matrix(0.1588 0 0 0.1296 599.11 840.67)"><text x="0.0" y="0" font-size="100">2</text><text x="55.6" y="0" font-size="100">3</text></g><g transform="matrix(0.1398 0 0 0.1444 55.68 852.56)"><text x="0.0" y="0" font-size="100">B</text><text x="66.7" y="0" font-size="100">W</text><text x="161.1" y="0" font-size="100">4</text><path transform="translate(216.7 0)" d="M37.3,0 L28.6,0 L28.6,-51 L11.5,-51 L11.5,-57.5 Q22,-58 26,-62.5 Q29,-66.5 29.8,-70.9 L37.3,-70.9 Z"/><path transform="translate(272.3 0)" d="M37.3,0 L28.6,0 L28.6,-51 L11.5,-51 L11.5,-57.5 Q22,-58 26,-62.5 Q29,-66.5 29.8,-70.9 L37.3,-70.9 Z"/><path transform="translate(327.9 0)" d="M37.3,0 L28.6,0 L28.6,-51 L11.5,-51 L11.5,-57.5 Q22,-58 26,-62.5 Q29,-66.5 29.8,-70.9 L37.3,-70.9 Z"/><text x="383.5" y="0" font-size="100">0</text><text x="439.1" y="0" font-size="100">-</text><text x="472.4" y="0" font-size="100">S</text><text x="539.1" y="0" font-size="100">0</text><text x="594.7" y="0" font-size="100">7</text><text x="650.3" y="0" font-size="100">0</text></g></g><!--/LABELS-->
<text transform="matrix(0.58 -0.29 0 1 71.6 827.3)" font-family="Liberation Sans" font-weight="bold" font-style="italic" font-size="15" fill="#111" stroke="#111" stroke-width="0.7">FWD</text>
</svg>
</body></html>
